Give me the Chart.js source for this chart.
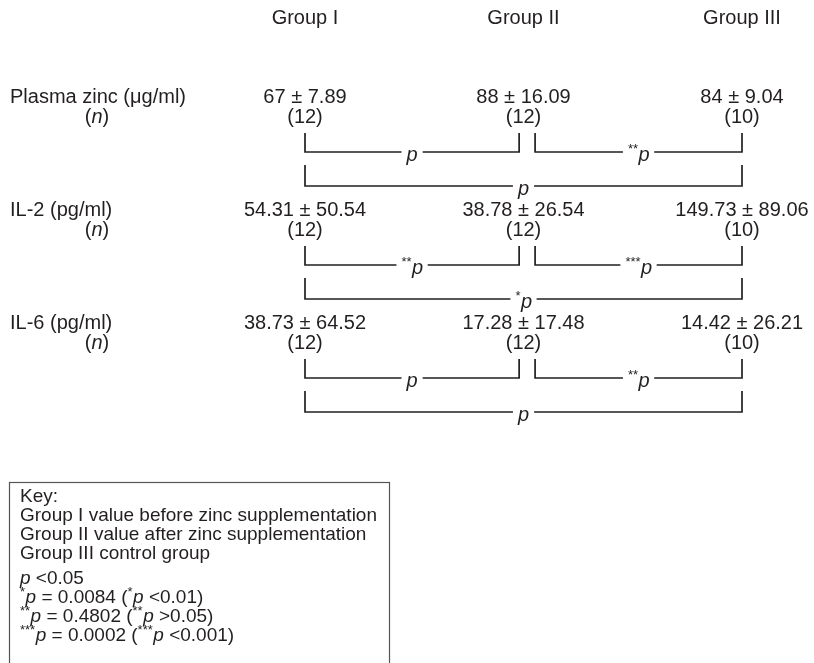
<!DOCTYPE html>
<html><head><meta charset="utf-8">
<script src="https://cdn.jsdelivr.net/npm/chart.js@4.4.0/dist/chart.umd.min.js"></script>
<style>html,body{margin:0;padding:0;background:#fff}#wrap{width:814px;height:663px;position:relative}</style>
</head><body><div id="wrap"><canvas id="c" width="814" height="663"></canvas></div>
<script>
// ---------- data ----------
const groups = ['Group I', 'Group II', 'Group III'];
const measures = ['Plasma zinc (\u03bcg/ml)', 'IL-2 (pg/ml)', 'IL-6 (pg/ml)'];
const meanValues = [[67, 88, 84], [54.31, 38.78, 149.73], [38.73, 17.28, 14.42]];
const sdValues = [[7.89, 16.09, 9.04], [50.54, 26.54, 89.06], [64.52, 17.48, 26.21]];
const sampleSizes = [[12, 12, 10], [12, 12, 10], [12, 12, 10]];
const comparisons = [[0, 1], [1, 2], [0, 2]];
const pMarks = [['p', '**p', 'p'], ['**p', '***p', '*p'], ['p', '**p', 'p']];
const keyLines = ['Key:', 'Group I value before zinc supplementation', 'Group II value after zinc supplementation', 'Group III control group'];
const keyPLines = ['p <0.05', '*p = 0.0084 (*p <0.01)', '**p = 0.4802 (**p >0.05)', '***p = 0.0002 (***p <0.001)'];

// ---------- layout ----------
const FONT = '"Liberation Sans", Arial, Helvetica, sans-serif';
const FS_TOP = 20, FS_KEY = 19;
const INK = '#231f20';
const headerY = 18, rowY0 = 97, rowGap = 113, nLineDy = 20;
const upTopDy = 36, upLineDy = 55, loTopDy = 68, loLineDy = 89;
const gapLeft = 0.02, gapRight = 0.053;
const labelX = 10, nLabelX = 97;
const keyBox = {l: 9, t: 482, r: 389, b: 720};
const keyTextX = 20, keyY0 = 497, keyStep = 19, keyExtra = 6;

function bracketData(r, c) {
  const [a, b] = comparisons[c];
  const base = rowY0 + r * rowGap;
  const top = c < 2 ? upTopDy : loTopDy;
  const line = c < 2 ? upLineDy : loLineDy;
  let xa = a, xb = b;
  if (c === 0) xb = b - gapLeft;
  if (c === 1) xa = a + gapRight;
  return [{x: xa, y: base + top}, {x: xa, y: base + line}, {x: xb, y: base + line}, {x: xb, y: base + top}];
}

const datasets = [];
measures.forEach((m, r) => comparisons.forEach((cmp, c) => {
  datasets.push({data: bracketData(r, c), showLine: true, borderColor: INK, borderWidth: 1.7,
    pointRadius: 0, fill: false, tension: 0, _row: r, _cmp: c});
}));

function parseRich(s) {
  return s.split(/(\*+|\b[pn]\b)/).filter(t => t.length).map(t => {
    if (/^\*+$/.test(t)) return {t, sup: true};
    if (t === 'p' || t === 'n') return {t, it: true};
    return {t};
  });
}
function partFont(p, fs) { return (p.it ? 'italic ' : '') + (p.sup ? Math.round(fs * 0.66) : fs) + 'px ' + FONT; }
function drawRich(ctx, parts, x, y, align, fs) {
  let w = 0;
  parts.forEach(p => { ctx.font = partFont(p, fs); p.w = ctx.measureText(p.t).width; w += p.w; });
  let cx = align === 'center' ? x - w / 2 : (align === 'right' ? x - w : x);
  ctx.textAlign = 'left'; ctx.textBaseline = 'middle'; ctx.fillStyle = INK;
  parts.forEach(p => { ctx.font = partFont(p, fs); ctx.fillText(p.t, cx, p.sup ? y - fs * 0.3 : y); cx += p.w + (p.sup ? 0.5 : 0); });
  return w;
}

const textPlugin = {
  id: 'tableText',
  beforeDraw(chart) {
    const ctx = chart.ctx; ctx.save(); ctx.fillStyle = '#fff';
    ctx.fillRect(0, 0, chart.width, chart.height); ctx.restore();
  },
  afterDatasetsDraw(chart) {
    const ctx = chart.ctx, xs = chart.scales.x, ys = chart.scales.y;
    ctx.save();
    chart.data.datasets.forEach(ds => {
      const pts = ds.data;
      const mx = xs.getPixelForValue((pts[1].x + pts[2].x) / 2);
      const my = ys.getPixelForValue(pts[1].y);
      const parts = parseRich(pMarks[ds._row][ds._cmp]);
      let w = 0;
      parts.forEach(p => { ctx.font = partFont(p, FS_TOP); w += ctx.measureText(p.t).width; });
      ctx.fillStyle = '#fff';
      ctx.fillRect(mx - w / 2 - 5, my - 3, w + 10, 6);
      drawRich(ctx, parts, mx, my + 3, 'center', FS_TOP);
    });
    groups.forEach((g, i) => drawRich(ctx, [{t: g}], xs.getPixelForValue(i), ys.getPixelForValue(headerY), 'center', FS_TOP));
    measures.forEach((m, r) => {
      const yv = ys.getPixelForValue(rowY0 + r * rowGap);
      const yn = ys.getPixelForValue(rowY0 + r * rowGap + nLineDy);
      drawRich(ctx, [{t: m}], labelX, yv, 'left', FS_TOP);
      drawRich(ctx, parseRich('(n)'), nLabelX, yn, 'center', FS_TOP);
      groups.forEach((g, i) => {
        const x = xs.getPixelForValue(i);
        drawRich(ctx, [{t: meanValues[r][i] + ' \u00b1 ' + sdValues[r][i]}], x, yv, 'center', FS_TOP);
        drawRich(ctx, [{t: '(' + sampleSizes[r][i] + ')'}], x, yn, 'center', FS_TOP);
      });
    });
    ctx.strokeStyle = '#555'; ctx.lineWidth = 1.2;
    ctx.strokeRect(keyBox.l + 0.5, ys.getPixelForValue(keyBox.t) + 0.5, keyBox.r - keyBox.l, keyBox.b - keyBox.t);
    keyLines.forEach((s, i) => drawRich(ctx, [{t: s}], keyTextX, ys.getPixelForValue(keyY0 + i * keyStep), 'left', FS_KEY));
    keyPLines.forEach((s, i) => drawRich(ctx, parseRich(s), keyTextX,
      ys.getPixelForValue(keyY0 + (keyLines.length + i) * keyStep + keyExtra), 'left', FS_KEY));
    ctx.restore();
  }
};

const pxPerGroup = 218.5, firstGroupPx = 305;
new Chart(document.getElementById('c'), {
  type: 'scatter',
  data: {datasets},
  options: {
    responsive: false, animation: false, events: [],
    layout: {padding: 0},
    plugins: {legend: {display: false}, tooltip: {enabled: false}},
    scales: {
      x: {type: 'linear', display: false, min: -firstGroupPx / pxPerGroup, max: (814 - firstGroupPx) / pxPerGroup},
      y: {type: 'linear', display: false, reverse: true, min: 0, max: 663}
    }
  },
  plugins: [textPlugin]
});
</script></body></html>
